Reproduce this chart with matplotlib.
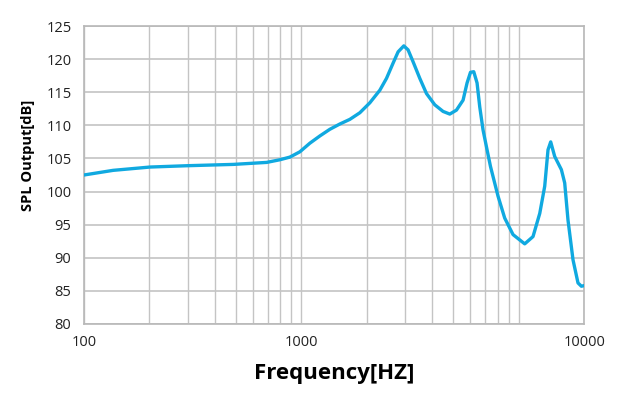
import matplotlib
matplotlib.use("Agg")
import matplotlib.pyplot as plt
from matplotlib.ticker import FixedLocator, NullFormatter

plt.rcParams['font.family'] = ['Open Sans', 'Noto Sans', 'DejaVu Sans']

# frequency response
freq = [100, 136, 201, 297, 486, 692, 796, 885, 984, 1094, 1217, 1352, 1503, 1671,
        1858, 2065, 2296, 2465, 2643, 2787, 2960, 3097, 3266, 3506, 3764, 4110,
        4487, 4818, 5171, 5546, 5786, 5998, 6210, 6432, 6617, 6853, 7151, 7413,
        8032, 8620, 9415, 10656, 11635, 12496, 13170, 13638, 14033, 14640, 15716,
        16276, 16854, 17771, 18737, 19428, 20000]
spl = [102.5, 103.2, 103.7, 103.9, 104.1, 104.4, 104.8, 105.2, 106.0, 107.3, 108.4,
       109.4, 110.2, 110.9, 111.9, 113.4, 115.3, 117.1, 119.4, 121.1, 122.0, 121.4,
       119.6, 117.1, 114.8, 113.1, 112.1, 111.7, 112.3, 113.8, 116.4, 118.0, 118.1,
       116.4, 112.8, 109.3, 106.3, 103.8, 99.3, 96.0, 93.5, 92.1, 93.2, 96.7, 100.8,
       106.3, 107.5, 105.3, 103.3, 101.3, 95.7, 89.7, 86.2, 85.7, 85.8]

x_ticks = [100, 1000, 20000]
x_labels = ['100', '1000', '10000']
grid_freqs = [200, 300, 400, 500, 600, 700, 800, 900,
              2000, 3000, 4000, 5000, 6000, 7000, 8000, 9000, 10000]
y_ticks = [80, 85, 90, 95, 100, 105, 110, 115, 120, 125]

fig = plt.figure(figsize=(6.19, 3.97), dpi=100)
ax = fig.add_axes([0.1357, 0.1839, 0.808, 0.7506])

ax.plot(freq, spl, color='#10a9e0', lw=2.4, solid_joinstyle='round',
        solid_capstyle='round', zorder=3)

ax.set_xscale('log')
ax.set_xlim(100, 20000)
ax.set_ylim(80, 125)
ax.set_xticks(x_ticks)
ax.set_xticklabels(x_labels)
ax.xaxis.set_minor_locator(FixedLocator(grid_freqs))
ax.xaxis.set_minor_formatter(NullFormatter())
ax.set_yticks(y_ticks)

ax.grid(True, which='both', axis='x', color='#c4c4c4', lw=1)
ax.grid(True, which='major', axis='y', color='#c4c4c4', lw=1.2)
ax.tick_params(which='both', length=0, labelsize=10.5, colors='#222222', pad=8)
ax.tick_params(axis='y', pad=9)
for s in ax.spines.values():
    s.set_color('#b8b8b8')
    s.set_linewidth(1.2)

ax.set_ylabel('SPL Output[dB]', fontsize=10.5, fontweight='bold')
ax.yaxis.set_label_coords(-0.097, 0.567)
ax.set_xlabel('Frequency[HZ]', fontsize=16, fontweight='bold', labelpad=9)

fig.savefig('out.png', dpi=100)
